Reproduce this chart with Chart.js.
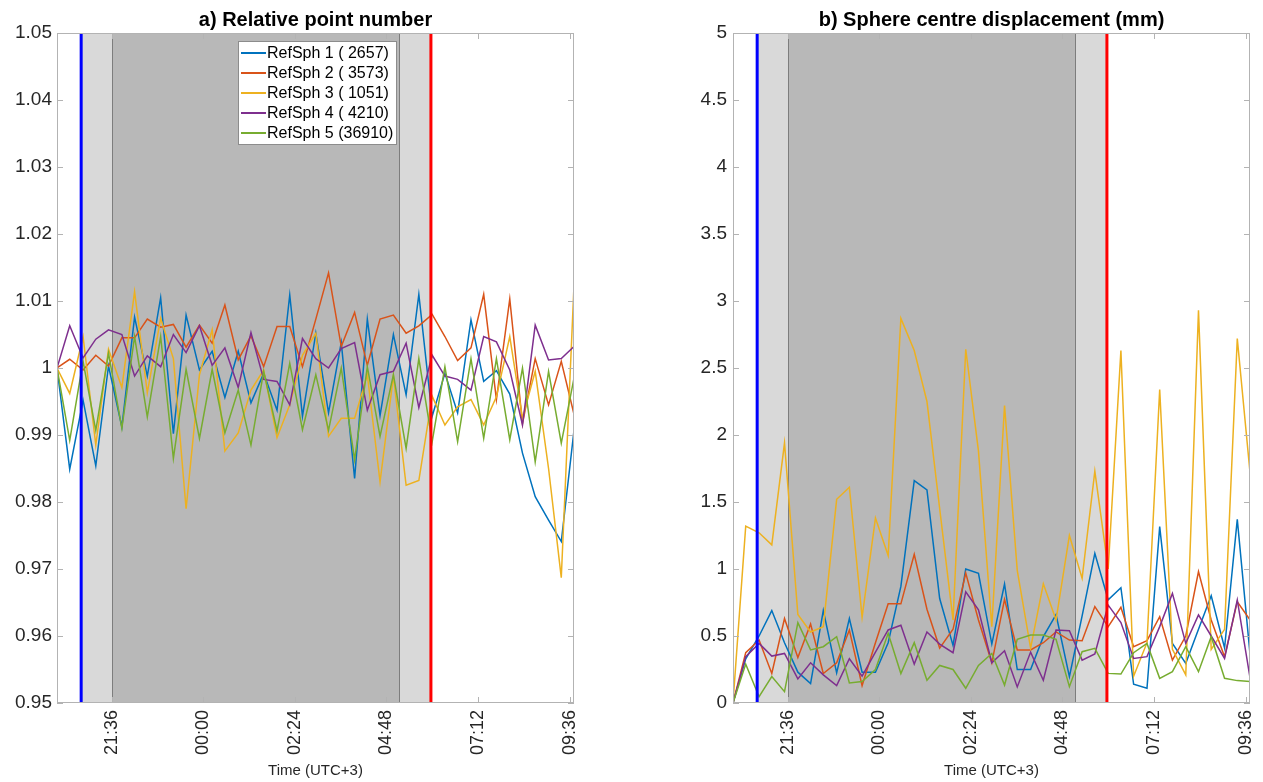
<!DOCTYPE html>
<html>
<head>
<meta charset="utf-8">
<script src="https://cdn.jsdelivr.net/npm/chart.js@4.4.1/dist/chart.umd.min.js"></script>
<style>
  html, body { margin: 0; padding: 0; background: #fff; }
  #wrapA { position: absolute; left: 0; top: 0; width: 631px; height: 782px; }
  #wrapB { position: absolute; left: 631px; top: 0; width: 632px; height: 782px; }
</style>
</head>
<body>
<div id="wrapA"><canvas id="chartA"></canvas></div>
<div id="wrapB"><canvas id="chartB"></canvas></div>
<script>
// Sample times (UTC+3)
const times = ['20:10','20:30','20:51','21:11','21:31','21:52','22:12','22:32','22:53','23:13',
               '23:33','23:54','00:14','00:34','00:55','01:15','01:35','01:56','02:16','02:36',
               '02:57','03:17','03:37','03:58','04:18','04:38','04:59','05:19','05:39','06:00',
               '06:20','06:40','07:01','07:21','07:41','08:02','08:22','08:42','09:03','09:23','09:43'];
const xTickLabels = ['21:36','00:00','02:24','04:48','07:12','09:36'];

const seriesNames = ['RefSph 1 ( 2657)', 'RefSph 2 ( 3573)', 'RefSph 3 ( 1051)', 'RefSph 4 ( 4210)', 'RefSph 5 (36910)'];
const seriesColors = ['#0072BD', '#D95319', '#EDB120', '#7E2F8E', '#77AC30'];

// twilight / night markers
const sunset = '20:48';
const nightStart = '21:36';
const nightEnd = '05:10';
const sunrise = '05:58';

// a) Relative point number
const rel1 = [1.000, 0.9849, 0.9952, 0.9854, 1.0003, 0.9912, 1.0076, 0.9988, 1.0105, 0.9902,
              1.0079, 0.9997, 1.0025, 0.9956, 1.0025, 0.9948, 0.9992, 0.9937, 1.0109, 0.9928,
              1.0052, 0.9933, 1.0038, 0.9835, 1.0073, 0.9929, 1.0050, 0.9960, 1.0110, 0.9928,
              0.9992, 0.9933, 1.0072, 0.9980, 0.9996, 0.9961, 0.9873, 0.9808, 0.9773, 0.9741, 0.9907];
const rel2 = [1.000, 1.0013, 0.9997, 1.0019, 1.0003, 1.0045, 1.0045, 1.0073, 1.0061, 1.0065,
              1.0031, 1.0064, 1.0037, 1.0094, 1.0012, 1.0048, 1.0002, 1.0062, 1.0062, 1.0002,
              1.0073, 1.0142, 1.0032, 1.0083, 1.0004, 1.0073, 1.0079, 1.0052, 1.0063, 1.0080,
              1.0047, 1.0011, 1.0030, 1.0110, 0.9953, 1.0103, 0.9917, 1.0014, 0.9945, 1.0010, 0.9931];
const rel3 = [1.000, 0.9962, 1.0047, 0.9885, 1.0028, 0.9971, 1.0114, 0.9963, 1.0074, 1.0014,
              0.9790, 0.9990, 1.0057, 0.9876, 0.9903, 0.9967, 0.9997, 0.9896, 0.9945, 1.0019,
              1.0052, 0.9898, 0.9925, 0.9925, 0.9990, 0.9830, 0.9988, 0.9825, 0.9832, 0.9958,
              0.9915, 0.9942, 0.9953, 0.9915, 0.9957, 1.0047, 0.9925, 0.9995, 0.9850, 0.9687, 1.0123];
const rel4 = [1.000, 1.0063, 1.0015, 1.0043, 1.0057, 1.0050, 0.9988, 1.0018, 1.0002, 1.0050,
              1.0023, 1.0063, 1.0004, 1.0030, 0.9971, 1.0053, 0.9983, 0.9980, 0.9945, 1.0044,
              1.0014, 1.0000, 1.0029, 1.0038, 0.9937, 0.9990, 0.9995, 1.0037, 0.9941, 1.0019,
              0.9988, 0.9983, 0.9967, 1.0047, 1.0039, 0.9997, 0.9915, 1.0064, 1.0012, 1.0014, 1.0032];
const rel5 = [1.000, 0.9892, 1.0010, 0.9907, 1.0022, 0.9910, 1.0047, 0.9927, 1.0047, 0.9865,
              0.9998, 0.9895, 0.9998, 0.9903, 0.9967, 0.9885, 0.9995, 0.9906, 1.0007, 0.9908,
              0.9990, 0.9907, 1.0000, 0.9863, 1.0002, 0.9898, 0.9990, 0.9880, 1.0014, 0.9890,
              1.0002, 0.9890, 1.0014, 0.9895, 1.0014, 0.9893, 1.0000, 0.9860, 0.9995, 0.9888, 0.9985];

// b) Sphere centre displacement (mm)
const disp1 = [0, 0.33, 0.50, 0.69, 0.45, 0.23, 0.145, 0.69, 0.225, 0.63,
               0.23, 0.23, 0.45, 0.87, 1.66, 1.59, 0.78, 0.43, 1.00, 0.968,
               0.44, 0.888, 0.25, 0.25, 0.495, 0.66, 0.197, 0.65, 1.117, 0.77,
               0.86, 0.14, 0.11, 1.316, 0.445, 0.296, 0.55, 0.80, 0.41, 1.37, 0.366];
const disp2 = [0, 0.376, 0.47, 0.22, 0.63, 0.34, 0.59, 0.22, 0.30, 0.545,
               0.13, 0.45, 0.74, 0.74, 1.11, 0.70, 0.41, 0.55, 0.97, 0.62,
               0.30, 0.774, 0.396, 0.396, 0.45, 0.53, 0.47, 0.465, 0.72, 0.57,
               0.714, 0.42, 0.465, 0.644, 0.32, 0.50, 0.98, 0.62, 0.345, 0.756, 0.62];
const disp3 = [0, 1.32, 1.27, 1.18, 1.94, 0.66, 0.53, 0.57, 1.52, 1.61,
               0.64, 1.38, 1.10, 2.87, 2.63, 2.25, 1.45, 0.62, 2.64, 1.88,
               0.57, 2.22, 0.99, 0.41, 0.89, 0.62, 1.25, 0.93, 1.73, 1.00,
               2.63, 0.20, 0.45, 2.34, 0.40, 0.21, 2.93, 0.40, 0.55, 2.72, 1.72];
const disp4 = [0, 0.346, 0.445, 0.35, 0.37, 0.18, 0.30, 0.21, 0.13, 0.33,
               0.20, 0.38, 0.545, 0.58, 0.29, 0.53, 0.44, 0.375, 0.83, 0.695,
               0.30, 0.39, 0.12, 0.38, 0.17, 0.545, 0.54, 0.32, 0.366, 0.73,
               0.60, 0.333, 0.346, 0.57, 0.818, 0.445, 0.657, 0.50, 0.333, 0.769, 0.19];
const disp5 = [0, 0.29, 0.047, 0.197, 0.085, 0.60, 0.396, 0.42, 0.495, 0.15,
               0.16, 0.25, 0.52, 0.22, 0.45, 0.17, 0.28, 0.25, 0.11, 0.28,
               0.37, 0.134, 0.475, 0.507, 0.507, 0.475, 0.122, 0.383, 0.408, 0.221,
               0.216, 0.375, 0.445, 0.184, 0.234, 0.42, 0.234, 0.495, 0.184, 0.167, 0.16];

const FONT = "'Liberation Sans', Arial, Helvetica, sans-serif";
const TEXT = '#262626';

// minutes after 20:00, wrapping past midnight
function toMin(t) {
    const [h, m] = t.split(':').map(Number);
    return (h < 12 ? h + 24 : h) * 60 + m - 20 * 60;
}

function makeDatasets(list) {
    return list.map((vals, k) => ({
        label: seriesNames[k],
        data: vals.map((v, i) => ({ x: toMin(times[i]), y: v })),
        borderColor: seriesColors[k],
        backgroundColor: seriesColors[k],
        borderWidth: 1.5,
        pointRadius: 0,
        tension: 0,
        order: list.length - k
    }));
}

// MATLAB-like axes: shaded night, sunset/sunrise lines, box, inward ticks, title, legend
const matlabAxes = {
    id: 'matlabAxes',
    beforeDatasetsDraw(chart) {
        const { ctx, chartArea: a, scales: { x } } = chart;
        const px = t => x.getPixelForValue(toMin(t));
        ctx.save();
        ctx.fillStyle = '#d9d9d9';
        ctx.fillRect(px(sunset), a.top, px(sunrise) - px(sunset), a.bottom - a.top);
        const n0 = Math.round(px(nightStart)), n1 = Math.round(px(nightEnd));
        ctx.fillStyle = '#b8b8b8';
        ctx.fillRect(n0, a.top, n1 - n0, a.bottom - a.top);
        ctx.strokeStyle = '#7d7d7d';
        ctx.lineWidth = 1;
        ctx.beginPath();
        ctx.moveTo(n0 + 0.5, a.top); ctx.lineTo(n0 + 0.5, a.bottom);
        ctx.moveTo(n1 - 0.5, a.top); ctx.lineTo(n1 - 0.5, a.bottom);
        ctx.stroke();
        ctx.restore();
    },
    afterDatasetsDraw(chart) {
        const { ctx, chartArea: a, scales: { x, y } } = chart;
        ctx.save();
        ctx.lineWidth = 3;
        ctx.strokeStyle = '#0000ff';
        ctx.beginPath();
        ctx.moveTo(x.getPixelForValue(toMin(sunset)), a.top);
        ctx.lineTo(x.getPixelForValue(toMin(sunset)), a.bottom);
        ctx.stroke();
        ctx.strokeStyle = '#ff0000';
        ctx.beginPath();
        ctx.moveTo(x.getPixelForValue(toMin(sunrise)), a.top);
        ctx.lineTo(x.getPixelForValue(toMin(sunrise)), a.bottom);
        ctx.stroke();

        // box + ticks
        ctx.lineWidth = 1;
        ctx.strokeStyle = '#b3b3b3';
        ctx.strokeRect(a.left + 0.5, a.top + 0.5, a.right - a.left - 1, a.bottom - a.top - 1);
        ctx.beginPath();
        x.ticks.forEach(t => {
            const p = Math.round(x.getPixelForValue(t.value)) + 0.5;
            ctx.moveTo(p, a.bottom); ctx.lineTo(p, a.bottom - 6);
            ctx.moveTo(p, a.top); ctx.lineTo(p, a.top + 6);
        });
        y.ticks.forEach(t => {
            const p = Math.round(y.getPixelForValue(t.value)) + 0.5;
            ctx.moveTo(a.left, p); ctx.lineTo(a.left + 6, p);
            ctx.moveTo(a.right, p); ctx.lineTo(a.right - 6, p);
        });
        ctx.stroke();
        ctx.restore();
    },
    afterDraw(chart, args, opts) {
        const { ctx, chartArea: a } = chart;
        ctx.save();
        ctx.fillStyle = '#000';
        ctx.font = 'bold 20px ' + FONT;
        ctx.textAlign = 'center';
        ctx.textBaseline = 'alphabetic';
        ctx.fillText(opts.title, (a.left + a.right) / 2, 26);

        if (opts.legend) {
            const lx = a.left + 181, ly = a.top + 8, w = 159, h = 104;
            ctx.fillStyle = '#fff';
            ctx.fillRect(lx, ly, w, h);
            ctx.strokeStyle = '#8c8c8c';
            ctx.lineWidth = 1;
            ctx.strokeRect(lx + 0.5, ly + 0.5, w - 1, h - 1);
            ctx.font = '16px ' + FONT;
            ctx.textAlign = 'left';
            ctx.textBaseline = 'middle';
            chart.data.datasets.forEach((ds, k) => {
                const yy = ly + 12 + k * 20;
                ctx.strokeStyle = ds.borderColor;
                ctx.lineWidth = 2;
                ctx.beginPath();
                ctx.moveTo(lx + 3, yy); ctx.lineTo(lx + 28, yy);
                ctx.stroke();
                ctx.fillStyle = '#000';
                ctx.fillText(ds.label, lx + 29, yy + 1);
            });
        }
        ctx.restore();
    }
};

function makeChart(id, datasets, yOpts, yWidth, padRight, title, legend) {
    return new Chart(document.getElementById(id), {
        type: 'line',
        data: { datasets: datasets },
        options: {
            responsive: true,
            maintainAspectRatio: false,
            animation: false,
            layout: { padding: { top: 33, right: padRight, bottom: 0, left: 0 } },
            plugins: {
                legend: { display: false },
                tooltip: { enabled: false },
                matlabAxes: { title: title, legend: legend }
            },
            scales: {
                x: {
                    type: 'linear',
                    min: toMin(times[0]),
                    max: toMin(times[times.length - 1]),
                    afterBuildTicks: s => { s.ticks = xTickLabels.map(t => ({ value: toMin(t) })); },
                    afterFit: s => { s.height = 79; s.paddingLeft = 0; s.paddingRight = 0; },
                    grid: { display: false, drawTicks: false },
                    border: { display: false },
                    ticks: {
                        autoSkip: false, minRotation: 90, maxRotation: 90, padding: 7,
                        color: TEXT, font: { family: FONT, size: 18 },
                        callback: (v, i) => xTickLabels[i]
                    },
                    title: {
                        display: true, text: 'Time (UTC+3)', color: TEXT,
                        font: { family: FONT, size: 15 }, padding: { top: 0, bottom: 2 }
                    }
                },
                y: Object.assign({
                    afterFit: s => { s.width = yWidth; s.paddingTop = 0; s.paddingBottom = 0; },
                    grid: { display: false, drawTicks: false },
                    border: { display: false }
                }, yOpts)
            }
        },
        plugins: [matlabAxes]
    });
}

makeChart('chartA', makeDatasets([rel1, rel2, rel3, rel4, rel5]), {
    min: 0.95, max: 1.05,
    ticks: { stepSize: 0.01, padding: 5, color: TEXT, font: { family: FONT, size: 19 },
             callback: v => String(+v.toFixed(2)) }
}, 57, 57, 'a) Relative point number', true);

makeChart('chartB', makeDatasets([disp1, disp2, disp3, disp4, disp5]), {
    min: 0, max: 5,
    ticks: { stepSize: 0.5, padding: 6, color: TEXT, font: { family: FONT, size: 19 },
             callback: v => String(+v.toFixed(1)) }
}, 102, 13, 'b) Sphere centre displacement (mm)', false);
</script>
</body>
</html>
